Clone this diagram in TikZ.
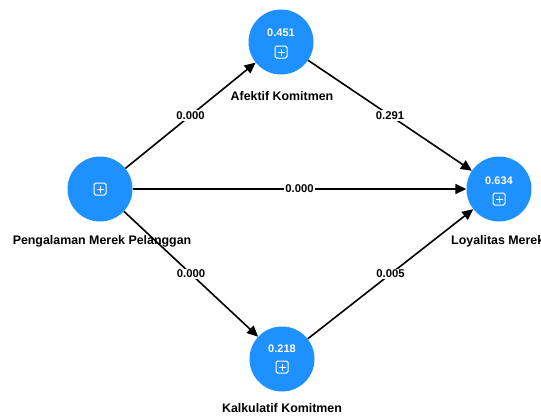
\documentclass[tikz,border=0pt]{standalone}
\usepackage{fontspec}
\setmainfont{Liberation Sans}
\usetikzlibrary{arrows.meta}
\definecolor{nodeblue}{HTML}{1E90FF}
\begin{document}
\begin{tikzpicture}[x=1pt,y=-1pt,
  construct/.style={circle,fill=nodeblue,minimum size=65pt,inner sep=0pt},
  namelabel/.style={font=\fontsize{12.4}{13}\selectfont\bfseries,inner sep=0pt},
  pathline/.style={draw=black,line width=1.6pt,-{Triangle[length=11pt,width=10pt]}},
  coef/.style={fill=white,inner sep=1.2pt,font=\fontsize{11.3}{12}\selectfont\bfseries},
  val/.style={text=white,inner sep=0pt,font=\fontsize{11}{12}\selectfont\bfseries},
  plusbox/.style={draw=white,line width=1pt,rounded corners=1.6pt,minimum size=12pt,inner sep=0pt,
    path picture={\draw[white,line width=1pt]
      ([xshift=2.5pt]path picture bounding box.west) -- ([xshift=-2.5pt]path picture bounding box.east)
      ([yshift=-2.5pt]path picture bounding box.north) -- ([yshift=2.5pt]path picture bounding box.south);}},
]
\useasboundingbox (0,0) rectangle (541,416);
\clip (0,0) rectangle (541,416);
% constructs
\node[construct] (pmp) at (100,189) {};
\node[construct] (ak) at (281,42) {};
\node[construct] (kk) at (282,359) {};
\node[construct] (lm) at (499,189) {};
% inner contents
\node[plusbox] (pmpplus) at (100,189) {};
\node[val] (akval) at (281,33) {0.451};
\node[plusbox] (akplus) at (281,52) {};
\node[val] (kkval) at (282,349) {0.218};
\node[plusbox] (kkplus) at (282,367) {};
\node[val] (lmval) at (499,181) {0.634};
\node[plusbox] (lmplus) at (499,199) {};
% name labels
\node[namelabel] (aklabel) at (282,96) {Afektif Komitmen};
\node[namelabel] (pmplabel) at (102,241) {Pengalaman Merek Pelanggan};
\node[namelabel,anchor=west] (lmlabel) at (451,241) {Loyalitas Merek};
\node[namelabel] (kklabel) at (282,408) {Kalkulatif Komitmen};
% paths
\draw[pathline] (pmp) -- node[coef] {0.000} (ak);
\draw[pathline] (ak) -- node[coef] {0.291} (lm);
\draw[pathline] (pmp) -- node[coef] {0.000} (lm);
\draw[pathline] (pmp) -- node[coef] {0.000} (kk);
\draw[pathline] (kk) -- node[coef] {0.005} (lm);
\end{tikzpicture}
\end{document}
